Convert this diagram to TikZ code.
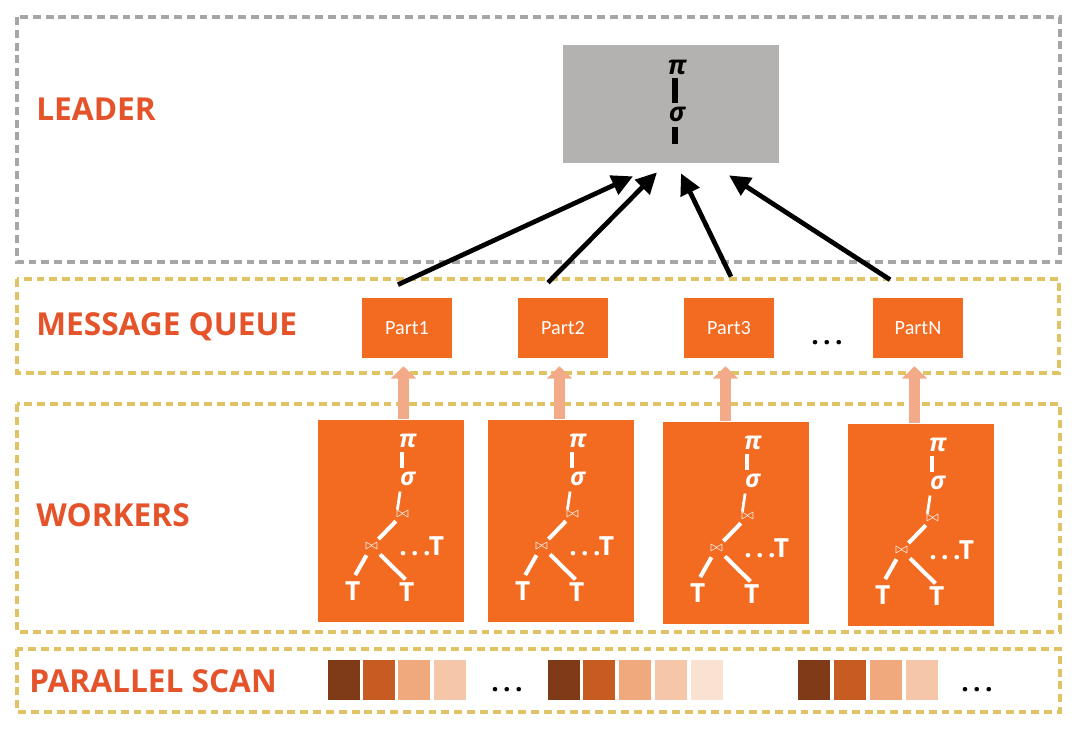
\documentclass[tikz,border=0pt]{standalone}
\usepackage{fontspec}
\setmainfont{Open Sans}
\newfontfamily\partfont{Carlito}
\usetikzlibrary{arrows.meta,positioning,calc}

\definecolor{titleorange}{HTML}{E4532A}
\definecolor{boxorange}{HTML}{F36A21}
\definecolor{salmon}{HTML}{F3AA88}
\definecolor{framegray}{HTML}{A6A6A6}
\definecolor{frameyellow}{HTML}{DFC365}
\definecolor{leadgray}{HTML}{B4B2B0}
\definecolor{scanA}{HTML}{7F3B17}
\definecolor{scanB}{HTML}{C65C21}
\definecolor{scanC}{HTML}{F0A87D}
\definecolor{scanD}{HTML}{F5C6A7}
\definecolor{scanE}{HTML}{F9E2D1}

\newcommand{\spdots}{.\kern2.5pt.\kern2.5pt.}

\tikzset{
    layer/.style={line width=2pt, dash pattern=on 4.5pt off 2.8pt},
    title/.style={anchor=west, inner sep=0pt, text=titleorange,
        font=\bfseries\fontsize{18}{21}\selectfont},
    partbox/.style={fill=boxorange, text=white, inner sep=0pt,
        minimum width=1.8cm, minimum height=1.2cm,
        font=\partfont\fontsize{11.5}{13}\selectfont},
    workbox/.style={fill=boxorange, inner sep=0pt,
        minimum width=2.92cm, minimum height=4.06cm},
    leadbox/.style={fill=leadgray, inner sep=0pt,
        minimum width=4.32cm, minimum height=2.36cm},
    scanblock/.style={inner sep=0pt, minimum width=0.64cm, minimum height=0.8cm},
    bigarrow/.style={line width=2.7pt, -{Triangle[length=12pt,width=11.5pt]}},
    uparrow/.style={salmon, line width=6.5pt, shorten >=4.5pt,
        -{Triangle[length=7pt,width=14pt]}},
    treetext/.style={inner sep=1pt, text=white, font=\bfseries\fontsize{15}{17}\selectfont},
    greektext/.style={treetext, font=\bfseries\itshape\fontsize{14}{16}\selectfont},
    treeedge/.style={white, line width=2.3pt},
    jointext/.style={inner sep=0.5pt, text=white, font=\footnotesize},
    leadtext/.style={inner sep=0pt, font=\bfseries\itshape\fontsize{15}{17}\selectfont},
    leadedge/.style={line width=3pt},
    dotstext/.style={anchor=base, inner sep=0pt, font=\bfseries\fontsize{15}{17}\selectfont}
}

\begin{document}
\begin{tikzpicture}[x=0.02cm, y=-0.02cm]
    \useasboundingbox[fill=white] (0,0) rectangle (1080,736);

    % layers
    \draw[layer, framegray] (17,17) rectangle (1060,262);
    \draw[layer, frameyellow] (17,279) rectangle (1059,373);
    \draw[layer, frameyellow] (17,404) rectangle (1060,632);
    \draw[layer, frameyellow] (17,649) rectangle (1060,712);

    \node[title] (tlead) at (36,109) {LEADER};
    \node[title] (tqueue) at (36,327) {MESSAGE QUEUE};
    \node[title] (twork) at (36,515) {WORKERS};
    \node[title] (tscan) at (29,681) {PARALLEL SCAN};

    % leader
    \node[leadbox] (lead) at (671,104) {};
    \node[leadtext] (lpi) at (677,67) {π};
    \node[leadtext] (lsg) at (677,114) {σ};
    \coordinate (lend) at (675,144);
    \draw[leadedge, shorten <=2pt, shorten >=2pt] ([xshift=-1.2pt]lpi.south) -- ([xshift=-1.2pt]lsg.north);
    \draw[leadedge, shorten <=3pt] (lsg.south -| lend) -- (lend);

    % message queue
    \node[partbox] (p1) at (407,328) {Part1};
    \node[partbox] (p2) at (563,328) {Part2};
    \node[partbox] (p3) at (729,328) {Part3};
    \node[dotstext] (qdots) at (827,345) {\spdots};
    \node[partbox] (pN) at (918,328) {PartN};

    \draw[bigarrow] ($(p1.north)+(-9,-13)$) -- ($(lead.south)+(-38,13)$);
    \draw[bigarrow] ($(p2.north)+(-15,-15)$) -- ($(lead.south)+(-14,9)$);
    \draw[bigarrow] ($(p3.north)+(2,-21)$) -- ($(lead.south)+(10,10)$);
    \draw[bigarrow] ($(pN.north)+(-28,-18)$) -- ($(lead.south)+(58,12)$);

    % workers
    \foreach \n/\cx/\cy/\p in {1/391/521/p1, 2/561/521/p2, 3/736/523/p3, 4/921/525/pN} {
        \node[workbox] (w\n) at (\cx,\cy) {};
        \draw[uparrow] ([xshift=-2pt]\p.south |- w\n.north) -- ([xshift=-2pt]\p.south);
        \begin{scope}[shift={(w\n.north west)}]
            \node[greektext] (pi\n) at (90,22) {π};
            \node[greektext] (sg\n) at (90,60) {σ};
            \node[jointext] (ja\n) at (85,95) {$\bowtie$};
            \node[jointext] (jb\n) at (54,127) {$\bowtie$};
            \node[treetext] (more\n) at (104,127) {\spdots T};
            \node[treetext] (tl\n) at (35,172) {T};
            \node[treetext] (tr\n) at (89,173) {T};
            \draw[treeedge, shorten <=1pt, shorten >=1pt] ([xshift=-3pt]pi\n.south) -- ([xshift=-3pt]sg\n.north);
            \draw[treeedge, line width=1.6pt, shorten <=2pt] ([xshift=-4pt]sg\n.south) -- ([xshift=-3pt]ja\n.north);
            \draw[treeedge, shorten <=2pt, shorten >=2pt] (ja\n) -- (jb\n);
            \draw[treeedge, shorten <=3pt, shorten >=3pt] (jb\n) -- (tl\n.north);
            \draw[treeedge, shorten <=3pt, shorten >=1pt] (jb\n) -- (tr\n.north);
        \end{scope}
    }

    % parallel scan
    \foreach \i/\x/\c in {1/344/scanA, 2/379/scanB, 3/414/scanC, 4/450/scanD,
                          5/564/scanA, 6/599/scanB, 7/635/scanC, 8/671/scanD, 9/707/scanE,
                          10/814/scanA, 11/850/scanB, 12/886/scanC, 13/922/scanD}
        \node[scanblock, fill=\c] (s\i) at (\x,680) {};
    \node[dotstext] (sdots1) at (507,692) {\spdots};
    \node[dotstext] (sdots2) at (977,692) {\spdots};
\end{tikzpicture}
\end{document}
